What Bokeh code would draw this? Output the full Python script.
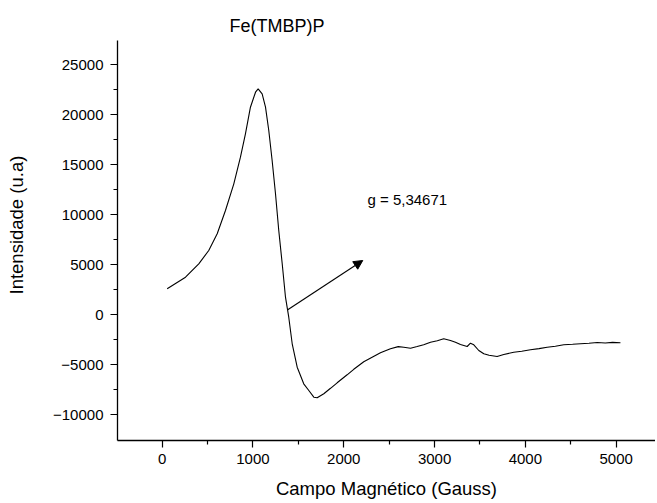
import math
from bokeh.plotting import figure
from bokeh.models import Range1d, FixedTicker, Label, Arrow, NormalHead, ColumnDataSource, Title
from bokeh.embed import file_html
from bokeh.resources import INLINE

# ---- data ----
field_gauss = [55, 257, 403, 513, 606, 697, 789, 862, 917, 972, 1028, 1057, 1101,
               1138, 1174, 1211, 1248, 1284, 1322, 1358, 1394, 1432, 1487, 1559,
               1615, 1670, 1707, 1780, 1854, 1927, 2037, 2110, 2220, 2404, 2514, 2600,
               2661, 2735, 2808, 2880, 2955, 3030, 3101, 3175, 3230, 3285, 3359,
               3395, 3432, 3487, 3542, 3600, 3689, 3762, 3872, 3960, 4056, 4150,
               4240, 4330, 4423, 4520, 4607, 4700, 4791, 4880, 4960, 5047]
intensity = [2600, 3760, 5100, 6430, 8100, 10430, 13100, 15760, 18100, 20760,
             22260, 22600, 22100, 20760, 18430, 15430, 12100, 8430, 5100, 1760,
             -240, -2900, -5240, -6900, -7570, -8240, -8300, -7900, -7350, -6800,
             -6000, -5450, -4700, -3800, -3400, -3180, -3240, -3340, -3170, -3000, -2740,
             -2600, -2400, -2570, -2750, -2970, -3170, -2840, -3000, -3570, -3900,
             -4050, -4170, -3970, -3740, -3650, -3500, -3380, -3240, -3150, -3000,
             -2950, -2900, -2850, -2770, -2820, -2760, -2800]

x_major_ticks = [0, 1000, 2000, 3000, 4000, 5000]
x_minor_ticks = [-500, 500, 1500, 2500, 3500, 4500]
y_major_ticks = [-10000, -5000, 0, 5000, 10000, 15000, 20000, 25000]
y_minor_ticks = [-7500, -2500, 2500, 7500, 12500, 17500, 22500]

title_text = "Fe(TMBP)P"
x_label = "Campo Magnético (Gauss)"
y_label = "Intensidade (u.a)"
g_text = "g = 5,34671"
g_pos = [2261, 11530]
arrow_start = [1383, 500]
arrow_end = [2209, 5430]

FONT = "Liberation Sans"

p = figure(width=655, height=503, output_backend="svg", toolbar_location=None,
           x_range=Range1d(-492, 5433), y_range=Range1d(-12570, 27430),
           min_border_left=117, min_border_right=0, min_border_top=40,
           min_border_bottom=63)
p.outline_line_color = None
p.xgrid.visible = False
p.ygrid.visible = False
p.background_fill_color = "white"

p.title.text = title_text
p.title.align = "left"
p.title.offset = 112
p.title.standoff = 9
p.title.text_font = FONT
p.title.text_font_size = "18px"
p.title.text_font_style = "normal"
p.title.text_color = "black"

src = ColumnDataSource(dict(x=field_gauss, y=intensity))
p.line("x", "y", source=src, line_color="black", line_width=1.1)

for ax in (p.xaxis[0], p.yaxis[0]):
    ax.axis_line_color = "black"
    ax.axis_line_width = 1.3
    ax.major_tick_line_color = "black"
    ax.minor_tick_line_color = "black"
    ax.major_tick_line_width = 1.2
    ax.minor_tick_line_width = 1.2
    ax.major_tick_in = 0
    ax.major_tick_out = 7
    ax.minor_tick_in = 0
    ax.minor_tick_out = 4
    ax.major_label_text_font = FONT
    ax.major_label_text_font_size = "15px"
    ax.major_label_text_color = "black"
    ax.axis_label_text_font = FONT
    ax.axis_label_text_font_style = "normal"
    ax.axis_label_text_font_size = "18.5px"
    ax.axis_label_text_color = "black"

p.xaxis[0].ticker = FixedTicker(ticks=x_major_ticks, minor_ticks=x_minor_ticks)
p.yaxis[0].ticker = FixedTicker(ticks=y_major_ticks, minor_ticks=y_minor_ticks)
p.xaxis[0].major_label_standoff = 6
p.yaxis[0].major_label_standoff = 7
p.xaxis[0].axis_label = x_label
p.xaxis[0].axis_label_standoff = 11

# the y-axis title is laid out on the left; a blank second line keeps it away from the ticks
p.add_layout(Title(text=y_label + "\n ", align="left", offset=146, standoff=5,
                   text_font=FONT, text_font_size="18.5px", text_font_style="normal",
                   text_color="black"), "left")

p.add_layout(Label(x=g_pos[0], y=g_pos[1], text=g_text,
                   text_align="left", text_baseline="alphabetic", text_font=FONT,
                   text_font_size="15px", text_color="black"))
p.add_layout(Arrow(end=NormalHead(size=9, fill_color="black", line_color="black"),
                   x_start=arrow_start[0], y_start=arrow_start[1],
                   x_end=arrow_end[0], y_end=arrow_end[1],
                   line_color="black", line_width=1.1))

open("out.html", "w").write(file_html(p, INLINE))
